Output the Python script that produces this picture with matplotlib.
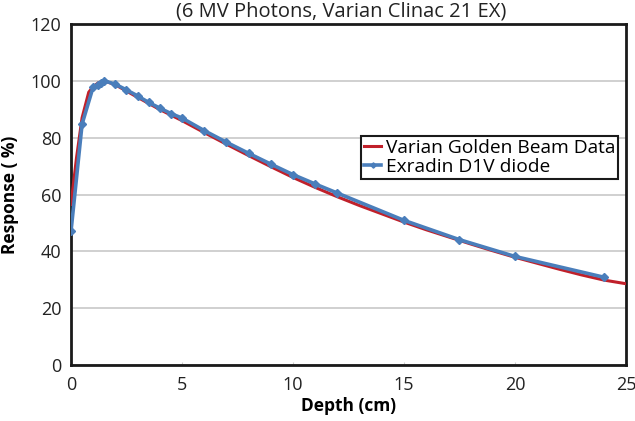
import numpy as np
import matplotlib
matplotlib.use('Agg')
import matplotlib.pyplot as plt

plt.rcParams['font.family'] = ['Open Sans', 'DejaVu Sans']

# ------- Varian golden beam data (PDD)
gbd_depth = [0, 0.25, 0.5, 0.8, 1.0, 1.25, 1.5, 2, 3, 4, 5, 6, 7, 8, 9, 10, 11, 12, 13,
             14, 15, 16, 17, 18, 19, 20, 21, 22, 23, 24, 25]
gbd_resp = [56.5, 73, 87, 96, 98, 99.4, 100, 98.6, 94.2, 89.9, 86.0, 81.8, 77.7, 73.7, 69.8,
            66.0, 62.5, 59.2, 56.1, 53.2, 50.3, 47.6, 45.1, 42.6, 40.2, 37.9, 35.8, 33.7,
            31.7, 29.9, 28.6]

# ------- Exradin D1V diode
d1v_depth = [0, 0.5, 1.0, 1.2, 1.35, 1.5, 2, 2.5, 3, 3.5, 4, 4.5, 5, 6, 7, 8, 9, 10, 11, 12,
             15, 17.5, 20, 24]
d1v_resp = [47.0, 84.8, 97.9, 98.6, 99.1, 100, 98.8, 96.8, 94.7, 92.4, 90.4, 88.5, 86.9,
            82.5, 78.4, 74.5, 70.7, 67.0, 63.7, 60.5, 50.9, 44.1, 38.2, 30.9]

fig = plt.figure(figsize=(6.35, 4.21), dpi=100)
ax = fig.add_axes([0.1118, 0.133, 0.874, 0.81])

ax.plot(gbd_depth, gbd_resp, color='#C0202A', lw=2.2, label='Varian Golden Beam Data', zorder=3)
ax.plot(d1v_depth, d1v_resp, color='#4A7EBB', lw=2.6, marker='D', ms=4.5,
        label='Exradin D1V diode', zorder=4)

ax.set_xlim(0, 25)
ax.set_ylim(0, 120)
ax.set_xticks([0, 5, 10, 15, 20, 25])
ax.set_yticks([0, 20, 40, 60, 80, 100, 120])
ax.grid(True, axis='y', color='#c8c8c8', lw=1.2)
ax.set_axisbelow(True)
for s in ax.spines.values():
    s.set_linewidth(2)
    s.set_color('#1a1a1a')
ax.tick_params(axis='y', length=0, labelsize=13, pad=7, colors='#222222')
ax.tick_params(axis='x', length=2, direction='in', color='#cccccc', labelsize=13, pad=8,
               labelcolor='#222222')

ax.set_xlabel('Depth (cm)', fontsize=12.5, fontweight='bold', labelpad=2)
ax.set_ylabel('Response ( %)', fontsize=12.5, fontweight='bold', labelpad=8)

fig.text(0.537, 1 - 17 / 421, '(6 MV Photons, Varian Clinac 21 EX)', ha='center',
         va='baseline', fontsize=14.5, color='#222222')

leg = ax.legend(loc='upper right', bbox_to_anchor=(0.986, 0.672), fontsize=13.8,
                handlelength=0.9, handletextpad=0.25, borderpad=0.15, labelspacing=0.05,
                fancybox=False, framealpha=1, borderaxespad=0, markerscale=0.6)
leg.get_frame().set_edgecolor('#1a1a1a')
leg.get_frame().set_linewidth(1.5)

fig.savefig('out.png', dpi=100)
